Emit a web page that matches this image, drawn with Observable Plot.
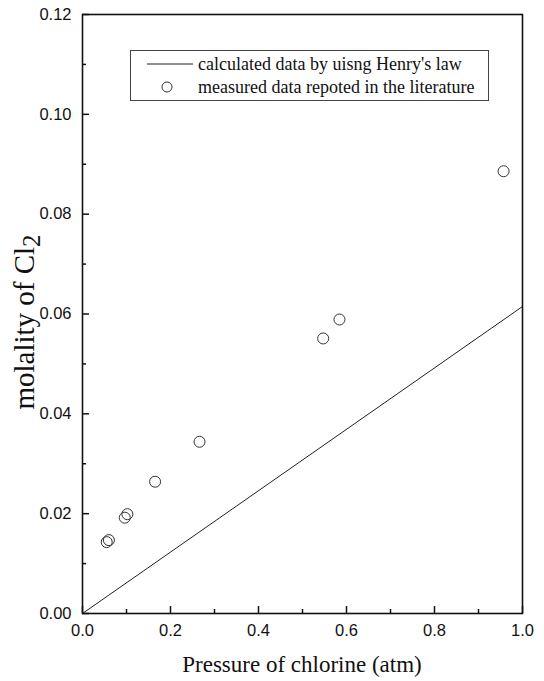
<!DOCTYPE html>
<html><head><meta charset="utf-8">
<script src="https://cdn.jsdelivr.net/npm/d3@7"></script>
<script src="https://cdn.jsdelivr.net/npm/@observablehq/plot@0.6"></script>
<style>
body{margin:0;background:#fff;}
#wrap{position:relative;width:544px;height:681px;}
#legend{position:absolute;left:130px;top:50px;width:359px;height:51px;box-sizing:border-box;border:1px solid #444;background:#fff;font-family:"Liberation Serif","Times New Roman",serif;font-size:18px;color:#111;}
#legend .row{position:absolute;left:0;width:100%;height:22px;}
#legend .row svg{position:absolute;left:0;top:0;}
#legend .row span{position:absolute;left:67px;top:0;line-height:22px;white-space:nowrap;}
</style></head><body><div id="wrap"></div>
<script>
// measured data (literature)
const pressure = [0.055, 0.060, 0.096, 0.102, 0.165, 0.266, 0.547, 0.584, 0.957];
const molality = [0.0143, 0.0147, 0.0192, 0.0199, 0.0264, 0.0344, 0.0551, 0.0589, 0.0886];
// Henry's law line
const henryPressure = [0, 1.0];
const henryMolality = [0, 0.0615];
// ticks
const xMajor = [0, 0.2, 0.4, 0.6, 0.8, 1.0];
const xMinor = [0.1, 0.3, 0.5, 0.7, 0.9];
const yMajor = [0, 0.02, 0.04, 0.06, 0.08, 0.10, 0.12];
const yMinor = [0.01, 0.03, 0.05, 0.07, 0.09, 0.11];
// texts
const xTitle = "Pressure of chlorine (atm)";
const yTitleMain = "molality of Cl";
const yTitleSub = "2";
const legendLine = "calculated data by uisng Henry's law";
const legendDots = "measured data repoted in the literature";

const measured = pressure.map((p, i) => ({p, m: molality[i]}));
const henry = henryPressure.map((p, i) => ({p, m: henryMolality[i]}));

const W = 544, H = 681, mL = 82, mR = 22, mT = 14, mB = 68;
const plotW = W - mL - mR, plotH = H - mT - mB;
const xDom = [0, 1], yDom = [0, 0.12];
// inward tick lengths (pixels) expressed in data units
const xTickMaj = 7 / plotH * (yDom[1] - yDom[0]);
const xTickMin = 4 / plotH * (yDom[1] - yDom[0]);
const yTickMaj = 7 / plotW * (xDom[1] - xDom[0]);
const yTickMin = 4 / plotW * (xDom[1] - xDom[0]);

const chart = Plot.plot({
  width: W, height: H,
  marginLeft: mL, marginRight: mR, marginTop: mT, marginBottom: mB,
  x: {domain: xDom},
  y: {domain: yDom},
  style: {background: "#fff", color: "#111"},
  marks: [
    Plot.line(henry, {x: "p", y: "m", stroke: "#222", strokeWidth: 1}),
    Plot.dot(measured, {x: "p", y: "m", r: 5.5, stroke: "#333", strokeWidth: 1, fill: "none"}),
    Plot.ruleX(xMajor, {x: d => d, y1: yDom[0], y2: yDom[0] + xTickMaj, stroke: "#111", strokeWidth: 1.5}),
    Plot.ruleX(xMinor, {x: d => d, y1: yDom[0], y2: yDom[0] + xTickMin, stroke: "#111", strokeWidth: 1.5}),
    Plot.ruleY(yMajor, {y: d => d, x1: xDom[0], x2: xDom[0] + yTickMaj, stroke: "#111", strokeWidth: 1.5}),
    Plot.ruleY(yMinor, {y: d => d, x1: xDom[0], x2: xDom[0] + yTickMin, stroke: "#111", strokeWidth: 1.5}),
    Plot.frame({stroke: "#111", strokeWidth: 1.6}),
    Plot.axisX({ticks: xMajor, tickSize: 0, tickPadding: 11, tickFormat: d => d.toFixed(1), fontSize: 16.5, fontFamily: "Liberation Sans, Arial, sans-serif", label: null}),
    Plot.axisY({ticks: yMajor, tickSize: 0, tickPadding: 11, tickFormat: d => d.toFixed(2), fontSize: 16.5, fontFamily: "Liberation Sans, Arial, sans-serif", label: null})
  ]
});

const svg = d3.select(chart);
svg.append("text")
  .attr("x", 302).attr("y", 672)
  .attr("text-anchor", "middle")
  .attr("font-family", "Liberation Serif, Times New Roman, serif")
  .attr("font-size", 23).attr("fill", "#111")
  .text(xTitle);
const yl = svg.append("text")
  .attr("transform", "translate(34,322) rotate(-90)")
  .attr("text-anchor", "middle")
  .attr("font-family", "Liberation Serif, Times New Roman, serif")
  .attr("font-size", 29).attr("fill", "#111");
yl.append("tspan").text(yTitleMain);
yl.append("tspan").attr("dy", "0.25em").attr("font-size", 25).text(yTitleSub);

const wrap = document.getElementById("wrap");
wrap.appendChild(chart);

const legend = document.createElement("div");
legend.id = "legend";
legend.innerHTML =
  `<div class="row" style="top:2px"><svg width="66" height="22"><line x1="16" x2="62" y1="11" y2="11" stroke="#222" stroke-width="1"/></svg><span>${legendLine}</span></div>` +
  `<div class="row" style="top:25px"><svg width="66" height="22"><circle cx="36" cy="11" r="5" fill="none" stroke="#333" stroke-width="1"/></svg><span>${legendDots}</span></div>`;
wrap.appendChild(legend);
</script>
</body></html>
